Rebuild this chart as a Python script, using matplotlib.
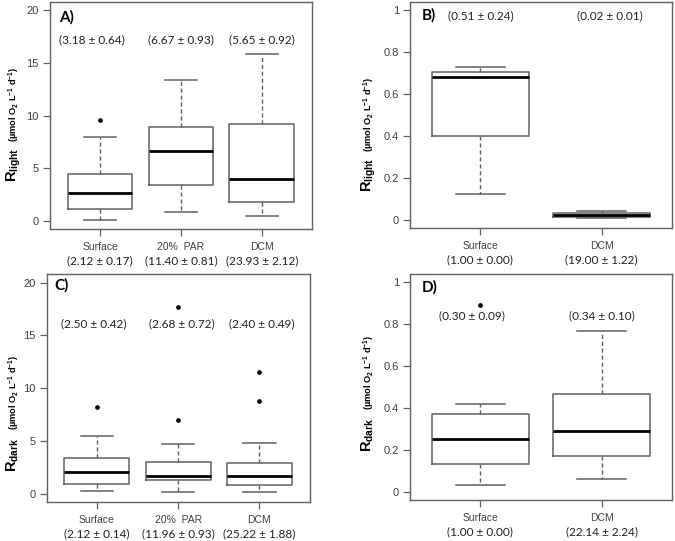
import matplotlib
matplotlib.use('Agg')
import matplotlib.pyplot as plt

plt.rcParams['font.family'] = ['Liberation Sans', 'DejaVu Sans']
plt.rcParams['mathtext.fontset'] = 'custom'
plt.rcParams['mathtext.rm'] = 'Liberation Sans:bold'
plt.rcParams['mathtext.bf'] = 'Liberation Sans:bold'
plt.rcParams['mathtext.it'] = 'Liberation Sans:bold'
plt.rcParams['mathtext.default'] = 'bf'

# ------------------------------------------------------------------
# Data
# ------------------------------------------------------------------
# Panel A: R_light, three depths
A_names  = ['Surface', '20%  PAR', 'DCM']
A_sub    = ['(2.12 ± 0.17)', '(11.40 ± 0.81)', '(23.93 ± 2.12)']
A_means  = ['(3.18 ± 0.64)', '(6.67 ± 0.93)', '(5.65 ± 0.92)']
A_whislo = [0.10, 0.80, 0.45]
A_q1     = [1.08, 3.43, 1.78]
A_med    = [2.67, 6.61, 4.00]
A_q3     = [4.48, 8.90, 9.19]
A_whishi = [7.98, 13.35, 15.87]
A_fliers = [[9.57], [], []]

# Panel B: R_light, two depths
B_names  = ['Surface', 'DCM']
B_sub    = ['(1.00 ± 0.00)', '(19.00 ± 1.22)']
B_means  = ['(0.51 ± 0.24)', '(0.02 ± 0.01)']
B_whislo = [0.123, 0.008]
B_q1     = [0.400, 0.012]
B_med    = [0.680, 0.021]
B_q3     = [0.704, 0.033]
B_whishi = [0.731, 0.043]
B_fliers = [[], []]

# Panel C: R_dark, three depths
C_names  = ['Surface', '20%  PAR', 'DCM']
C_sub    = ['(2.12 ± 0.14)', '(11.96 ± 0.93)', '(25.22 ± 1.88)']
C_means  = ['(2.50 ± 0.42)', '(2.68 ± 0.72)', '(2.40 ± 0.49)']
C_whislo = [0.25, 0.16, 0.16]
C_q1     = [0.95, 1.33, 0.86]
C_med    = [2.06, 1.68, 1.68]
C_q3     = [3.40, 2.98, 2.89]
C_whishi = [5.43, 4.73, 4.83]
C_fliers = [[8.25], [7.02, 17.71], [8.76, 11.56]]

# Panel D: R_dark, two depths
D_names  = ['Surface', 'DCM']
D_sub    = ['(1.00 ± 0.00)', '(22.14 ± 2.24)']
D_means  = ['(0.30 ± 0.09)', '(0.34 ± 0.10)']
D_whislo = [0.032, 0.060]
D_q1     = [0.133, 0.169]
D_med    = [0.250, 0.291]
D_q3     = [0.370, 0.465]
D_whishi = [0.419, 0.769]
D_fliers = [[0.894], []]

GRAY = '#606060'
TXT  = '#404040'


def make_stats(whislo, q1, med, q3, whishi, fliers):
    return [dict(whislo=a, q1=b, med=c, q3=d, whishi=e, fliers=f)
            for a, b, c, d, e, f in zip(whislo, q1, med, q3, whishi, fliers)]


def panel(ax, stats, names, subs, means, ymax, yticks, mean_y, mean_dx,
          letter, letter_xy, rsub, lab_pos):
    n = len(stats)
    pos = list(range(1, n + 1))
    ax.bxp(stats, positions=pos, widths=0.8, showfliers=True,
           boxprops=dict(color=GRAY, lw=1.1),
           medianprops=dict(color='black', lw=2.0),
           whiskerprops=dict(color=GRAY, lw=1.0, ls=(0, (3, 2))),
           capprops=dict(color=GRAY, lw=1.1),
           capwidths=0.4,
           flierprops=dict(marker='o', markersize=2.4, markerfacecolor='black',
                           markeredgecolor='black'))
    span = n
    ax.set_xlim(0.5 - 0.04 * span, n + 0.5 + 0.04 * span)
    ax.set_ylim(-0.04 * ymax, ymax * 1.04)
    ax.set_yticks(yticks)
    ax.set_yticklabels([('%g' % t) for t in yticks])
    ax.set_xticks(pos)
    ax.set_xticklabels([''] * n)
    ax.tick_params(axis='both', colors=GRAY, labelcolor=TXT, labelsize=8,
                   length=5, width=0.9, direction='out')
    ax.tick_params(axis='y', pad=3)
    for s in ax.spines.values():
        s.set_color(GRAY)
        s.set_linewidth(1.0)

    for p, nm, sb in zip(pos, names, subs):
        ax.annotate(nm, xy=(p, 0), xycoords=('data', 'axes fraction'),
                    xytext=(0, -13), textcoords='offset points',
                    ha='center', va='center', fontsize=7.5, color=TXT)
        ax.annotate(sb, xy=(p, 0), xycoords=('data', 'axes fraction'),
                    xytext=(0, -23), textcoords='offset points',
                    ha='center', va='center', fontsize=8.5, color='#202020',
                    family=['Lato', 'DejaVu Sans'])
    for p, m, dx in zip(pos, means, mean_dx):
        ax.text(p + dx, mean_y, m, ha='center', va='center', fontsize=8.5,
                color='#202020', family=['Lato', 'DejaVu Sans'])

    ax.text(letter_xy[0], letter_xy[1], letter, transform=ax.transAxes,
            ha='left', va='center', fontsize=11, fontweight='bold',
            family=['Lato', 'DejaVu Sans'])

    # y label in two pieces, each anchored at its start (bottom end)
    lx, ry, uy = lab_pos
    ax.text(lx, ry, r'R$_{\mathbf{%s}}$' % rsub, transform=ax.transAxes,
            rotation=90, rotation_mode='anchor', ha='left', va='baseline',
            fontsize=10.5, fontweight='bold', color='black')
    ax.text(lx, uy, r'(µmol O$_{2}$ L$^{-1}$ d$^{-1}$)', transform=ax.transAxes,
            rotation=90, rotation_mode='anchor', ha='left', va='baseline',
            fontsize=6.7, fontweight='bold', color='black')


fig = plt.figure(figsize=(6.75, 5.41), dpi=100)
axA = fig.add_axes([0.074, 0.5767, 0.388, 0.4196])
axB = fig.add_axes([0.6074, 0.5786, 0.388, 0.4177])
axC = fig.add_axes([0.069, 0.072, 0.390, 0.4214])
axD = fig.add_axes([0.6074, 0.0758, 0.388, 0.4177])

panel(axA, make_stats(A_whislo, A_q1, A_med, A_q3, A_whishi, A_fliers),
      A_names, A_sub, A_means, 20, [0, 5, 10, 15, 20], 17.2, [-0.1, 0, 0],
      'A)', (0.035, 0.934), 'light', (-0.126, 0.207, 0.383))
panel(axB, make_stats(B_whislo, B_q1, B_med, B_q3, B_whishi, B_fliers),
      B_names, B_sub, B_means, 1, [0, 0.2, 0.4, 0.6, 0.8, 1], 0.973, [0, 0.07],
      'B)', (0.046, 0.942), 'light', (-0.145, 0.159, 0.336))
panel(axC, make_stats(C_whislo, C_q1, C_med, C_q3, C_whishi, C_fliers),
      C_names, C_sub, C_means, 20, [0, 5, 10, 15, 20], 16.1, [-0.04, 0.05, 0.03],
      'C)', (0.03, 0.952), 'dark', (-0.113, 0.132, 0.316))
panel(axD, make_stats(D_whislo, D_q1, D_med, D_q3, D_whishi, D_fliers),
      D_names, D_sub, D_means, 1, [0, 0.2, 0.4, 0.6, 0.8, 1], 0.839, [-0.07, 0],
      'D)', (0.046, 0.942), 'dark', (-0.145, 0.212, 0.398))

fig.savefig('out.png', dpi=100)
